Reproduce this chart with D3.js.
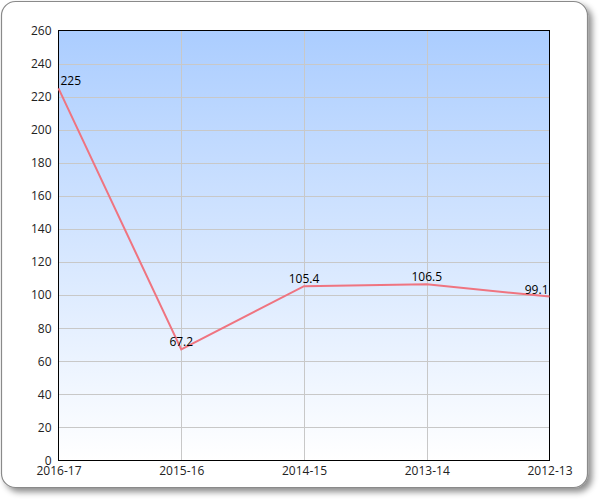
<!DOCTYPE html>
<html><head><meta charset="utf-8">
<script src="https://cdn.jsdelivr.net/npm/d3@7"></script>
<style>body{margin:0;background:#fff;}svg{display:block;font-family:"Open Sans",sans-serif;}</style>
</head><body>
<svg id="c" width="600" height="500"></svg>
<script>
const categories = ["2016-17","2015-16","2014-15","2013-14","2012-13"];
const values = [225, 67.2, 105.4, 106.5, 99.1];
const yTicks = [0,20,40,60,80,100,120,140,160,180,200,220,240,260];

const svg = d3.select("#c");
const defs = svg.append("defs");
const f = defs.append("filter").attr("id","sh").attr("x","-5%").attr("y","-5%").attr("width","115%").attr("height","115%");
f.append("feDropShadow").attr("dx",4).attr("dy",4).attr("stdDeviation",3).attr("flood-color","#000").attr("flood-opacity",0.45);
const g = defs.append("linearGradient").attr("id","bg").attr("x1",0).attr("y1",0).attr("x2",0).attr("y2",1);
g.append("stop").attr("offset","0%").attr("stop-color","#abcdff");
g.append("stop").attr("offset","100%").attr("stop-color","#ffffff");

svg.append("rect").attr("x",1.5).attr("y",1.5).attr("width",586).attr("height",486).attr("rx",14)
  .attr("fill","#fff").attr("stroke","#8a8a8a").attr("stroke-width",1.2).attr("filter","url(#sh)");

const L=58.5, R=549.5, T=30.5, B=460.5;
const x = d3.scalePoint().domain(categories).range([L,R]);
const y = d3.scaleLinear().domain([0,260]).range([B,T]);

svg.append("rect").attr("x",L).attr("y",T).attr("width",R-L).attr("height",B-T).attr("fill","url(#bg)");

svg.append("g").selectAll("line").data(yTicks.slice(1,-1)).join("line")
  .attr("x1",L).attr("x2",R).attr("y1",d=>Math.round(y(d))+0.5).attr("y2",d=>Math.round(y(d))+0.5)
  .attr("stroke","#c8c8c8");
svg.append("g").selectAll("line").data(categories.slice(1,-1)).join("line")
  .attr("y1",T).attr("y2",B).attr("x1",d=>Math.round(x(d))+0.5).attr("x2",d=>Math.round(x(d))+0.5)
  .attr("stroke","#c8c8c8");

svg.append("rect").attr("x",L).attr("y",T).attr("width",R-L).attr("height",B-T).attr("fill","none").attr("stroke","#000").attr("stroke-width",1);

const ya = svg.append("g").attr("transform",`translate(${L},0)`).call(d3.axisLeft(y).tickValues(yTicks).tickSize(0).tickPadding(7));
ya.select(".domain").remove();
ya.selectAll("text").attr("font-size",12).attr("fill","#222").attr("font-family","Open Sans, sans-serif");
const xa = svg.append("g").attr("transform",`translate(0,${B})`).call(d3.axisBottom(x).tickSize(0).tickPadding(6));
xa.select(".domain").remove();
xa.selectAll("text").attr("font-size",12).attr("fill","#222").attr("font-family","Open Sans, sans-serif");

const line = d3.line().x((d,i)=>x(categories[i])).y(d=>y(d));
svg.append("path").datum(values).attr("d",line).attr("fill","none").attr("stroke","#ef7480").attr("stroke-width",2);

svg.append("g").selectAll("text").data(values).join("text")
  .attr("x",(d,i)=>{const cx=x(categories[i]); return i===0? cx+2 : (i===values.length-1? cx-1 : cx);})
  .attr("y",d=>y(d)-3)
  .attr("text-anchor",(d,i)=>i===0?"start":(i===values.length-1?"end":"middle"))
  .attr("font-size",12).attr("fill","#000")
  .text(d=>d);
</script>
</body></html>
